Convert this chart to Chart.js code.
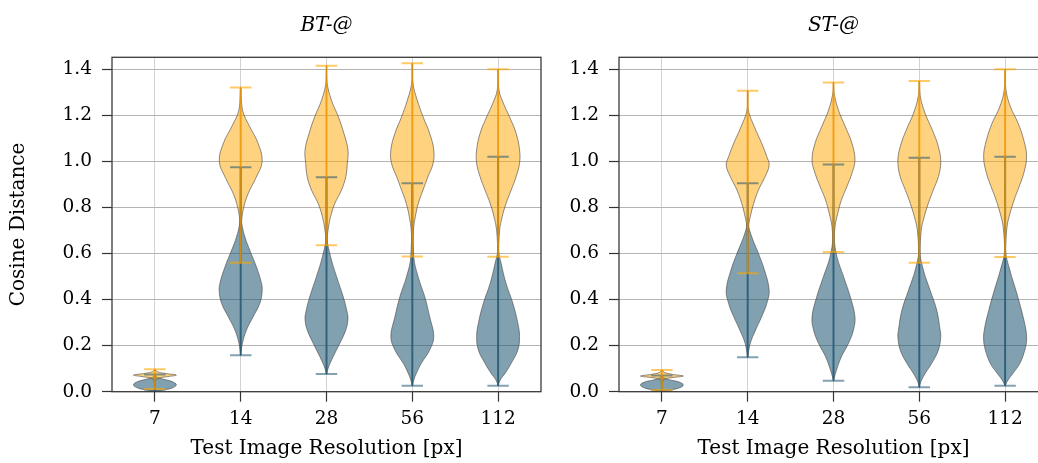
<!DOCTYPE html>
<html>
<head>
<meta charset="utf-8">
<script src="https://cdn.jsdelivr.net/npm/chart.js@4.4.0/dist/chart.umd.min.js"></script>
<style>
    html, body { margin: 0; padding: 0; background: #fff; overflow: hidden; }
    #wrap { position: relative; width: 1038px; height: 463px; overflow: hidden; }
    canvas { position: absolute; top: 0; }
</style>
</head>
<body>
<div id="wrap">
    <canvas id="btChart" width="560" height="463" style="left:0"></canvas>
    <canvas id="stChart" width="500" height="463" style="left:560px"></canvas>
</div>
<script>
// Categories and ticks
const xLabels = ['7', '14', '28', '56', '112'];
const xPositions = [1, 2, 3, 4, 5];
const yTicks = [0, 0.2, 0.4, 0.6, 0.8, 1.0, 1.2, 1.4];

// Violin outlines: [cosine distance, relative density width] per resolution
const btBlue = [
    [[0.002,0],[0.008,0.4],[0.016,0.8],[0.03,1.0],[0.044,0.8],[0.054,0.4],[0.064,0.08],[0.075,0]],
    [[0.158,0],[0.21,0.08],[0.268,0.27],[0.325,0.58],[0.383,0.89],[0.434,1.0],[0.47,0.97],[0.542,0.73],[0.615,0.42],[0.67,0.2],[0.73,0.05],[0.8,0.02],[0.974,0]],
    [[0.077,0],[0.108,0.1],[0.152,0.31],[0.21,0.62],[0.268,0.9],[0.315,1.0],[0.35,0.95],[0.412,0.78],[0.499,0.47],[0.586,0.19],[0.672,0.02],[0.931,0]],
    [[0.026,0],[0.051,0.07],[0.08,0.19],[0.123,0.42],[0.181,0.81],[0.239,1.0],[0.325,0.81],[0.412,0.58],[0.499,0.27],[0.586,0.07],[0.904,0]],
    [[0.026,0],[0.051,0.1],[0.08,0.33],[0.123,0.61],[0.181,0.92],[0.239,1.0],[0.297,0.92],[0.383,0.69],[0.47,0.37],[0.557,0.14],[0.615,0.02],[1.02,0]]
];
const btBlueMin = [0.002, 0.158, 0.077, 0.026, 0.026];
const btBlueMax = [0.075, 0.974, 0.931, 0.904, 1.02];

const btOrange = [
    [[0.012,0],[0.04,0.02],[0.056,0.1],[0.065,0.55],[0.072,1.0],[0.079,0.5],[0.087,0.1],[0.097,0]],
    [[0.56,0],[0.68,0.01],[0.74,0.04],[0.8,0.14],[0.86,0.35],[0.93,0.72],[1.0,1.0],[1.08,0.8],[1.15,0.42],[1.22,0.09],[1.32,0]],
    [[0.635,0],[0.70,0.07],[0.759,0.19],[0.817,0.39],[0.875,0.7],[0.933,0.9],[0.991,0.97],[1.049,1.0],[1.121,0.81],[1.193,0.55],[1.265,0.23],[1.338,0.03],[1.414,0]],
    [[0.587,0],[0.70,0.05],[0.759,0.14],[0.817,0.28],[0.875,0.5],[0.933,0.73],[0.991,0.97],[1.049,1.0],[1.121,0.81],[1.193,0.5],[1.265,0.23],[1.338,0.03],[1.425,0]],
    [[0.586,0],[0.70,0.07],[0.759,0.19],[0.817,0.37],[0.875,0.61],[0.933,0.84],[0.991,1.0],[1.049,1.0],[1.121,0.84],[1.193,0.53],[1.251,0.25],[1.309,0.04],[1.399,0]]
];
const btOrangeMin = [0.012, 0.56, 0.635, 0.587, 0.586];
const btOrangeMax = [0.097, 1.32, 1.414, 1.425, 1.399];

const stBlue = [
    [[0.002,0],[0.008,0.4],[0.016,0.8],[0.029,1.0],[0.042,0.8],[0.052,0.35],[0.062,0.07],[0.07,0]],
    [[0.149,0],[0.21,0.12],[0.268,0.37],[0.325,0.65],[0.383,0.89],[0.441,1.0],[0.528,0.78],[0.6,0.5],[0.672,0.19],[0.73,0.03],[0.904,0]],
    [[0.048,0],[0.094,0.14],[0.152,0.37],[0.21,0.7],[0.268,0.93],[0.325,1.0],[0.412,0.78],[0.499,0.47],[0.586,0.16],[0.672,0.03],[0.986,0]],
    [[0.019,0],[0.043,0.07],[0.08,0.28],[0.123,0.58],[0.181,0.89],[0.239,1.0],[0.268,0.97],[0.354,0.81],[0.441,0.5],[0.528,0.19],[0.615,0.02],[1.015,0]],
    [[0.026,0],[0.051,0.14],[0.08,0.37],[0.123,0.69],[0.181,0.92],[0.224,1.0],[0.268,0.97],[0.354,0.76],[0.441,0.5],[0.528,0.22],[0.615,0.02],[1.02,0]]
];
const stBlueMin = [0.002, 0.149, 0.048, 0.019, 0.026];
const stBlueMax = [0.07, 0.904, 0.986, 1.015, 1.02];

const stOrange = [
    [[0.007,0],[0.04,0.02],[0.054,0.1],[0.062,0.55],[0.068,1.0],[0.075,0.5],[0.084,0.1],[0.094,0]],
    [[0.514,0],[0.615,0.01],[0.716,0.04],[0.759,0.12],[0.817,0.28],[0.875,0.5],[0.933,0.81],[0.983,1.0],[1.02,0.89],[1.078,0.65],[1.15,0.31],[1.222,0.03],[1.306,0]],
    [[0.606,0],[0.716,0.07],[0.774,0.2],[0.832,0.37],[0.889,0.62],[0.948,0.86],[1.005,1.0],[1.078,0.86],[1.15,0.55],[1.222,0.23],[1.295,0.03],[1.342,0]],
    [[0.56,0],[0.70,0.09],[0.759,0.23],[0.817,0.42],[0.875,0.65],[0.933,0.89],[0.998,1.0],[1.063,0.89],[1.135,0.61],[1.208,0.27],[1.28,0.05],[1.348,0]],
    [[0.584,0],[0.716,0.09],[0.774,0.23],[0.832,0.42],[0.889,0.65],[0.948,0.87],[1.02,1.0],[1.092,0.87],[1.164,0.61],[1.236,0.25],[1.309,0.04],[1.399,0]]
];
const stOrangeMin = [0.007, 0.514, 0.606, 0.56, 0.584];
const stOrangeMax = [0.094, 1.306, 1.342, 1.348, 1.399];

// Styles
const HALF_WIDTH = 0.25;   // violin half width in category units
const CAP_HALF = 0.125;
const FONT = "'DejaVu Serif', serif";
const blueStyle = { fill: 'rgba(31,86,115,0.56)', bar: 'rgba(31,86,115,0.8)', cap: 'rgba(31,86,115,0.55)' };
const orangeStyle = { fill: 'rgba(255,166,0,0.5)', bar: 'rgba(240,150,0,0.8)', cap: 'rgba(255,166,0,0.6)' };

Chart.defaults.font.family = FONT;
Chart.defaults.color = '#000';

// closed outline: up the right side, down the left side
function outline(profile, pos) {
    const right = profile.map(([y, w]) => ({ x: pos + HALF_WIDTH * w, y: y }));
    const left = profile.slice().reverse().map(([y, w]) => ({ x: pos - HALF_WIDTH * w, y: y }));
    return right.concat(left.slice(1));
}

function seg(x1, y1, x2, y2) {
    return [{ x: x1, y: y1 }, { x: x2, y: y2 }];
}

function violinSets(profiles, mins, maxs, style, fillOrder, lineOrder) {
    const sets = [];
    profiles.forEach((p, i) => {
        const pos = xPositions[i];
        sets.push({
            data: outline(p, pos), showLine: true, fill: 'shape', tension: 0.4,
            backgroundColor: style.fill, borderColor: 'rgba(70,70,70,0.6)', borderWidth: 1,
            pointRadius: 0, order: fillOrder
        });
        sets.push({
            data: seg(pos, mins[i], pos, maxs[i]), showLine: true, fill: false,
            borderColor: style.bar, borderWidth: 2, pointRadius: 0, order: lineOrder
        });
        [mins[i], maxs[i]].forEach(v => {
            sets.push({
                data: seg(pos - CAP_HALF, v, pos + CAP_HALF, v), showLine: true, fill: false,
                borderColor: style.cap, borderWidth: 2, pointRadius: 0, order: lineOrder
            });
        });
    });
    return sets;
}

const framePlugin = {
    id: 'frame',
    afterDatasetsDraw(chart) {
        const a = chart.chartArea;
        const ctx = chart.ctx;
        ctx.save();
        ctx.strokeStyle = '#3a3a3a';
        ctx.lineWidth = 1.3;
        ctx.strokeRect(a.left, a.top, a.right - a.left, a.bottom - a.top);
        ctx.restore();
    }
};

function makeChart(id, title, blue, blueMin, blueMax, orange, orangeMin, orangeMax, yWidth, padRight, showYTitle) {
    const datasets = []
        .concat(violinSets(blue, blueMin, blueMax, blueStyle, 4, 2))
        .concat(violinSets(orange, orangeMin, orangeMax, orangeStyle, 3, 1));
    return new Chart(document.getElementById(id).getContext('2d'), {
        type: 'scatter',
        data: { datasets: datasets },
        options: {
            responsive: false,
            animation: false,
            events: [],
            devicePixelRatio: 1,
            layout: { padding: { left: 0, right: padRight, top: 0, bottom: 0 } },
            plugins: { legend: { display: false }, tooltip: { enabled: false } },
            scales: {
                x: {
                    type: 'linear', min: 0.5, max: 5.5,
                    afterBuildTicks: s => { s.ticks = xPositions.map(v => ({ value: v })); },
                    afterFit: s => { s.height = 71.3; },
                    ticks: { callback: v => xLabels[v - 1], font: { size: 18.5 }, padding: 6, maxRotation: 0, autoSkip: false },
                    grid: { color: '#d2d2d2', lineWidth: 1, tickColor: '#333', tickLength: 10, tickWidth: 1.2 },
                    border: { display: false },
                    title: { display: true, text: 'Test Image Resolution [px]', font: { size: 20 }, padding: { top: 0, bottom: 2 } }
                },
                x2: {
                    type: 'linear', position: 'top', min: 0.5, max: 5.5,
                    afterFit: s => { s.height = 57.3; },
                    ticks: { display: false },
                    grid: { display: false },
                    border: { display: false },
                    title: { display: true, text: title, font: { size: 20, style: 'italic' }, padding: { top: 14, bottom: 0 } }
                },
                y: {
                    type: 'linear', min: 0, max: 1.451,
                    afterBuildTicks: s => { s.ticks = yTicks.map(v => ({ value: v })); },
                    afterFit: s => { s.width = yWidth; },
                    ticks: { callback: v => v.toFixed(1), font: { size: 18.5 }, padding: 10 },
                    grid: { color: '#b4b4b4', lineWidth: 1, tickColor: '#333', tickLength: 10, tickWidth: 1.2 },
                    border: { display: false },
                    title: { display: showYTitle, text: 'Cosine Distance', font: { size: 20 }, padding: { top: 7, bottom: 0 } }
                }
            }
        },
        plugins: [framePlugin]
    });
}

makeChart('btChart', 'BT-@', btBlue, btBlueMin, btBlueMax, btOrange, btOrangeMin, btOrangeMax, 112, 19, true);
makeChart('stChart', 'ST-@', stBlue, stBlueMin, stBlueMax, stOrange, stOrangeMin, stOrangeMax, 59, 12, false);
</script>
</body>
</html>
